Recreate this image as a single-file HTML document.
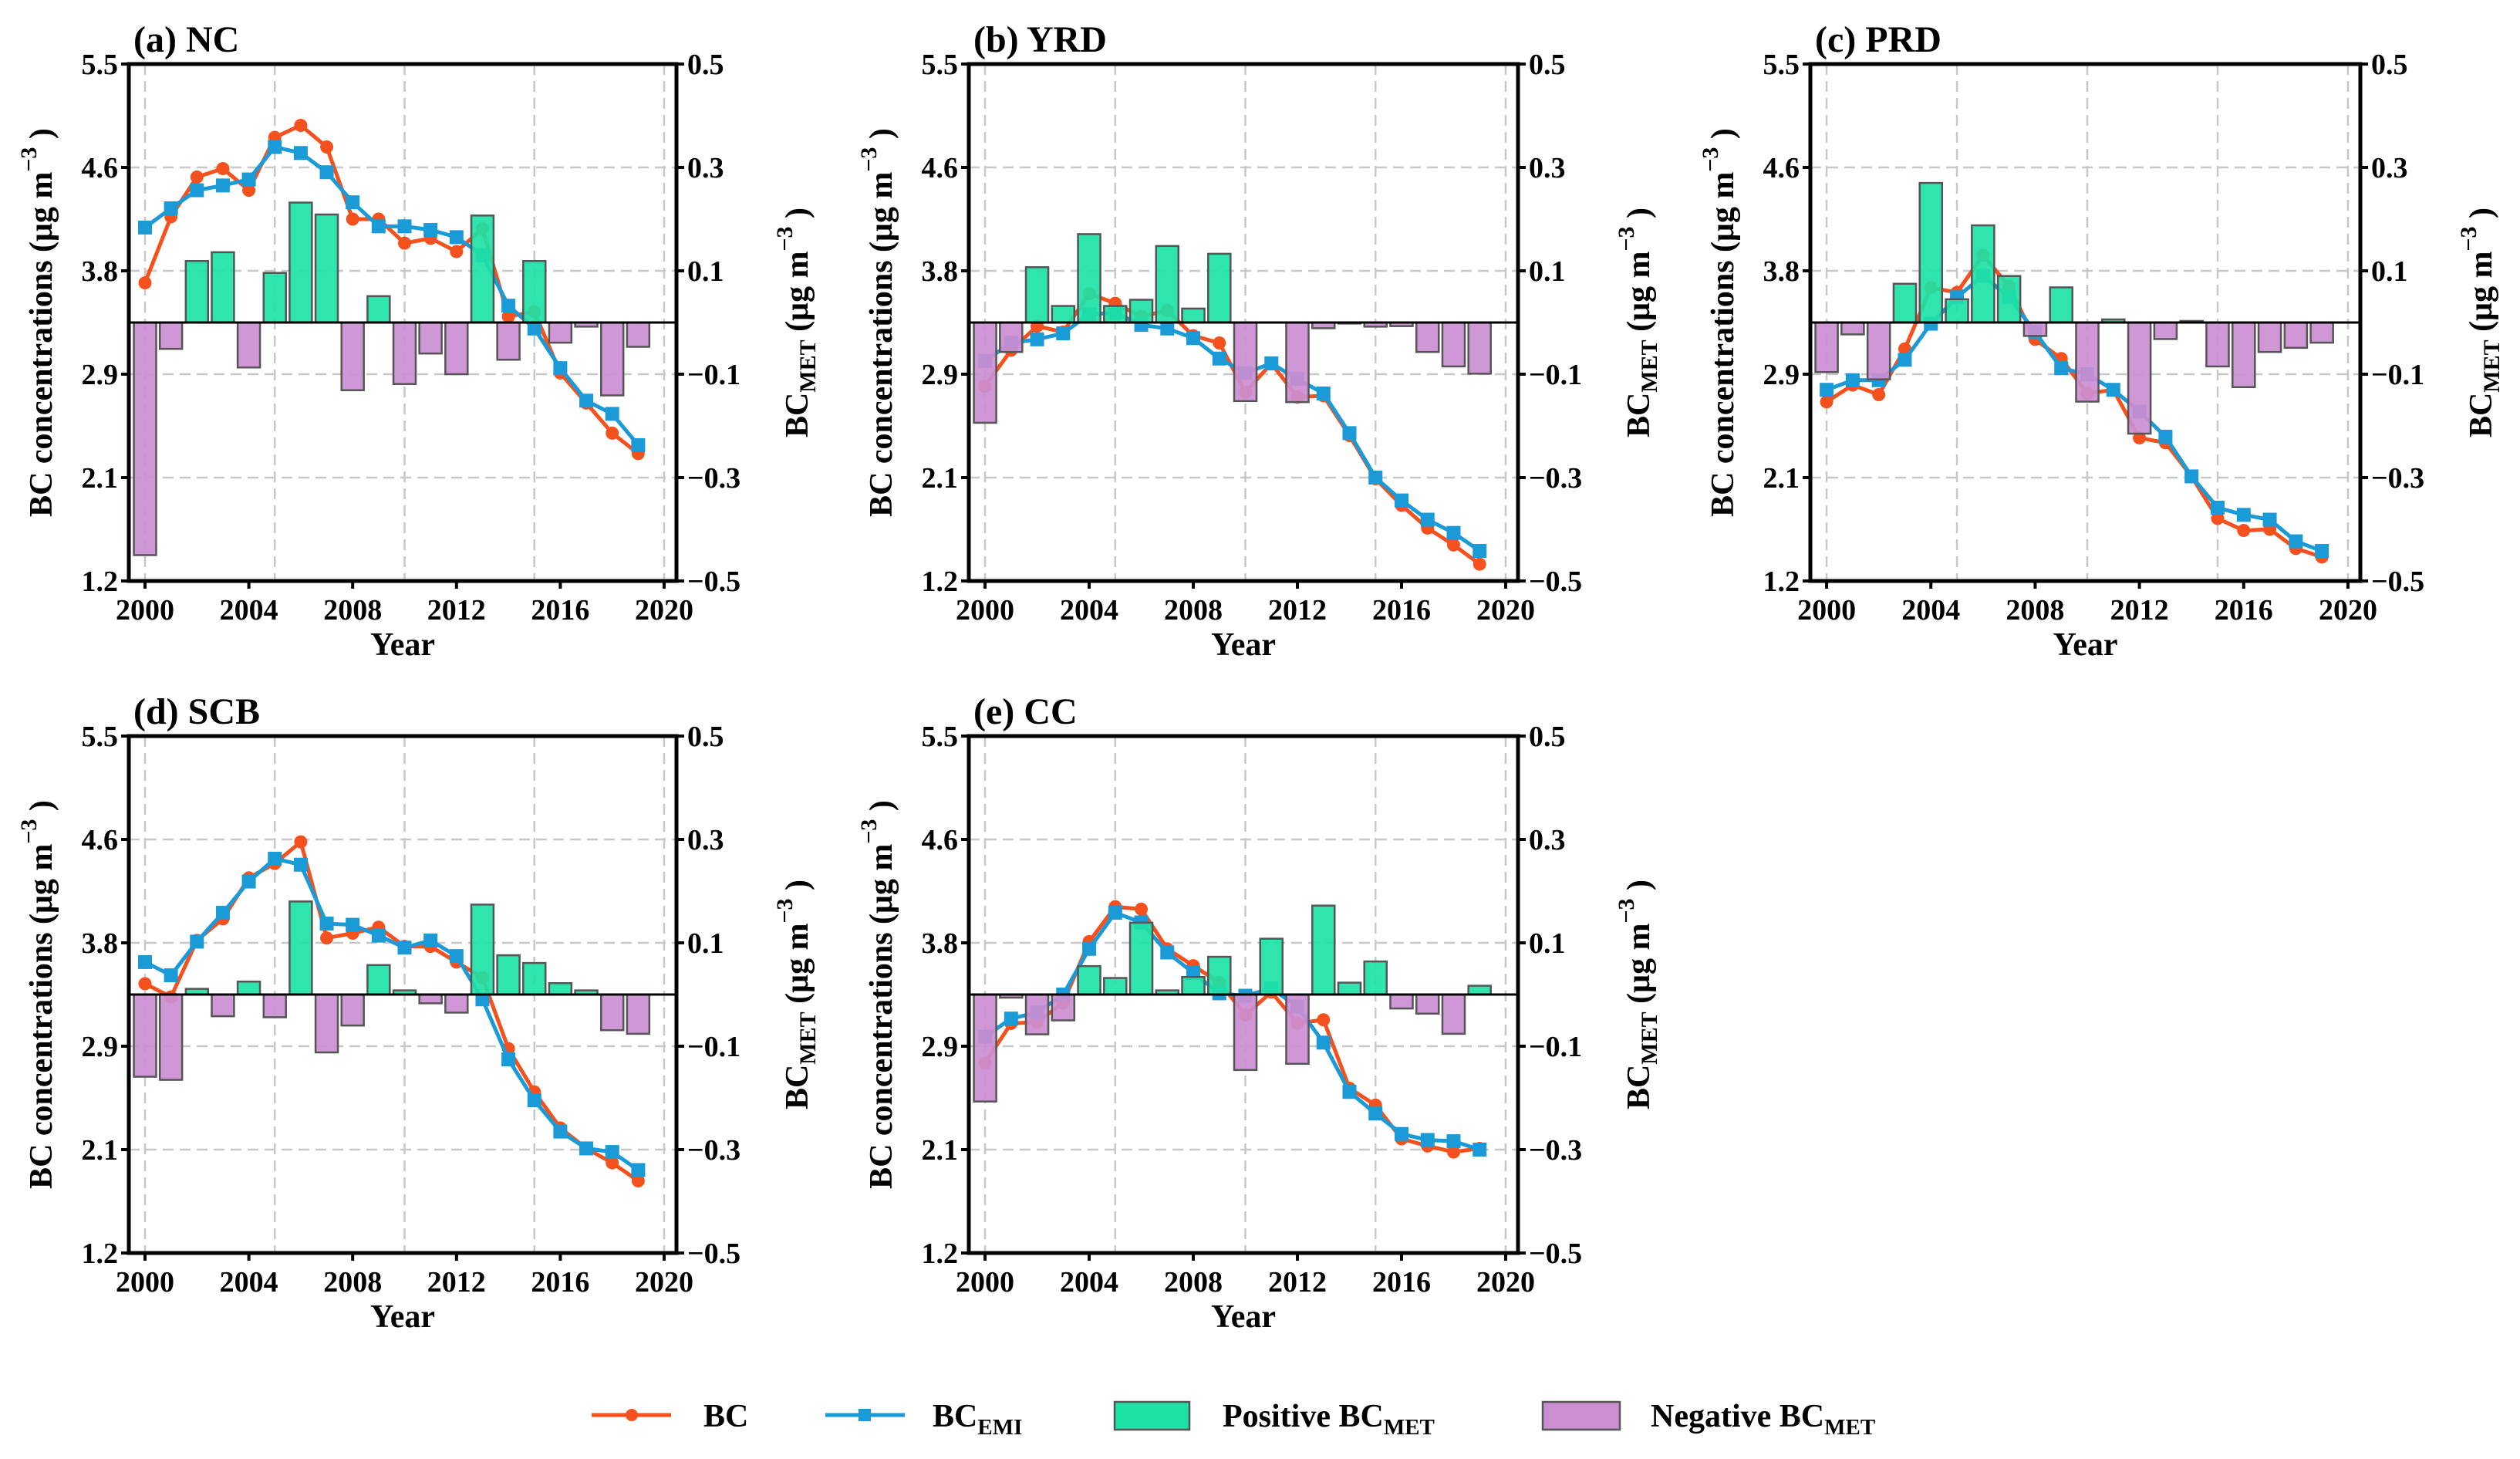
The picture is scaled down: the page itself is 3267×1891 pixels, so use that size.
<!DOCTYPE html>
<html><head><meta charset="utf-8">
<style>
html,body{margin:0;padding:0;background:#fff;}
svg{display:block;font-family:"Liberation Serif",serif;font-weight:bold;}
</style></head>
<body>
<svg id="fig" width="3267" height="1891" viewBox="0 0 3267 1891" xmlns="http://www.w3.org/2000/svg">
<g id="legend">
  <g>
    <line x1="767" y1="1834" x2="870" y2="1834" stroke="#f4511e" stroke-width="5"/>
    <circle cx="819" cy="1834" r="8" fill="#f4511e"/>
    <text x="912" y="1849" font-size="42">BC</text>
  </g>
  <g>
    <line x1="1070" y1="1834" x2="1173" y2="1834" stroke="#1a9ad6" stroke-width="5"/>
    <rect x="1113" y="1826" width="16" height="16" fill="#1a9ad6"/>
    <text x="1209" y="1849" font-size="42">BC<tspan font-size="29" dy="10">EMI</tspan></text>
  </g>
  <g>
    <rect x="1445" y="1817" width="97" height="36" fill="#1de2a6" stroke="#555" stroke-width="2.5"/>
    <text x="1585" y="1849" font-size="42">Positive BC<tspan font-size="29" dy="10">MET</tspan></text>
  </g>
  <g>
    <rect x="2000" y="1817" width="100" height="36" fill="#cb8ed1" stroke="#555" stroke-width="2.5"/>
    <text x="2140" y="1849" font-size="42">Negative BC<tspan font-size="29" dy="10">MET</tspan></text>
  </g>
</g>
</svg>
<script>
const years = [2000,2001,2002,2003,2004,2005,2006,2007,2008,2009,2010,2011,2012,2013,2014,2015,2016,2017,2018,2019];
const leftTicks = ["5.5","4.6","3.8","2.9","2.1","1.2"];
const rightTicks = ["0.5","0.3","0.1","\u22120.1","\u22120.3","\u22120.5"];
const xTicks = [2000,2004,2008,2012,2016,2020];
const gridYears = [2000,2005,2010,2015,2020];
const panelTitles = ["(a) NC","(b) YRD","(c) PRD","(d) SCB","(e) CC"];
const bcNC  = [3.68,4.23,4.56,4.63,4.45,4.89,4.99,4.81,4.21,4.21,4.01,4.05,3.94,4.13,3.40,3.44,2.93,2.68,2.43,2.26];
const emiNC = [4.14,4.30,4.45,4.49,4.54,4.81,4.76,4.60,4.35,4.15,4.15,4.12,4.06,3.91,3.49,3.30,2.97,2.70,2.59,2.33];
const metNC = [-0.45,-0.051,0.119,0.136,-0.087,0.096,0.232,0.209,-0.131,0.051,-0.119,-0.060,-0.10,0.207,-0.072,0.119,-0.039,-0.008,-0.141,-0.047];
const bcYRD  = [2.82,3.12,3.32,3.27,3.59,3.51,3.40,3.45,3.24,3.18,2.77,3.01,2.73,2.74,2.41,2.05,1.83,1.64,1.50,1.34];
const emiYRD = [3.03,3.18,3.21,3.26,3.42,3.43,3.33,3.30,3.22,3.05,2.93,3.01,2.88,2.76,2.43,2.06,1.87,1.71,1.60,1.45];
const metYRD = [-0.194,-0.057,0.107,0.032,0.171,0.032,0.044,0.148,0.027,0.133,-0.152,0,-0.154,-0.011,-0.002,-0.008,-0.007,-0.057,-0.085,-0.099];
const bcPRD  = [2.69,2.83,2.75,3.13,3.64,3.60,3.91,3.65,3.21,3.05,2.76,2.79,2.39,2.35,2.07,1.72,1.62,1.63,1.47,1.40];
const emiPRD = [2.79,2.87,2.87,3.04,3.34,3.56,3.74,3.56,3.27,2.97,2.92,2.79,2.61,2.40,2.07,1.81,1.75,1.71,1.53,1.45];
const metPRD = [-0.096,-0.023,-0.110,0.075,0.270,0.045,0.188,0.090,-0.026,0.068,-0.153,0.006,-0.215,-0.032,0.003,-0.085,-0.125,-0.057,-0.049,-0.039];
const bcSCB  = [3.44,3.33,3.80,3.98,4.32,4.44,4.62,3.82,3.86,3.91,3.75,3.75,3.62,3.49,2.90,2.54,2.24,2.07,1.95,1.80];
const emiSCB = [3.62,3.51,3.79,4.03,4.29,4.48,4.43,3.94,3.93,3.84,3.74,3.80,3.67,3.31,2.81,2.47,2.21,2.07,2.04,1.89];
const metSCB = [-0.159,-0.165,0.011,-0.042,0.025,-0.044,0.180,-0.112,-0.060,0.057,0.008,-0.017,-0.035,0.174,0.076,0.061,0.022,0.008,-0.069,-0.076];
const bcCC  = [2.78,3.11,3.12,3.28,3.79,4.08,4.06,3.73,3.59,3.45,3.18,3.37,3.11,3.14,2.57,2.43,2.15,2.09,2.04,2.07];
const emiCC = [3.00,3.15,3.20,3.35,3.73,4.03,3.95,3.70,3.53,3.36,3.34,3.40,3.25,2.95,2.54,2.36,2.19,2.14,2.13,2.06];
const metCC = [-0.207,-0.006,-0.077,-0.050,0.055,0.032,0.139,0.008,0.034,0.073,-0.146,0.108,-0.134,0.172,0.023,0.064,-0.027,-0.037,-0.076,0.017];

const NS = "http://www.w3.org/2000/svg";
const svg = document.getElementById("fig");
function mk(tag, attrs, parent){const e=document.createElementNS(NS,tag);for(const k in attrs)e.setAttribute(k,attrs[k]);(parent||svg).appendChild(e);return e;}

const panels = [
  {L:167,R:877,T:83,B:753,bc:bcNC,emi:emiNC,met:metNC,name:"nc"},
  {L:1256,R:1968,T:83,B:753,bc:bcYRD,emi:emiYRD,met:metYRD,name:"yrd"},
  {L:2347,R:3060,T:83,B:753,bc:bcPRD,emi:emiPRD,met:metPRD,name:"prd"},
  {L:167,R:877,T:954,B:1624,bc:bcSCB,emi:emiSCB,met:metSCB,name:"scb"},
  {L:1256,R:1968,T:954,B:1624,bc:bcCC,emi:emiCC,met:metCC,name:"cc"}
];

panels.forEach((p,pi)=>{
  const g = mk("g",{});
  
  
  const X0=1999.376, X1=2020.475;
  const x = v => p.L + (v-X0)/(X1-X0)*(p.R-p.L);
  const yL = v => p.T + (5.5-v)/4.3*(p.B-p.T);
  const yR = v => p.T + (0.5-v)/1.0*(p.B-p.T);
  gridYears.forEach(yr=>{
    const l=mk("line",{x1:x(yr),x2:x(yr),y1:p.T,y2:p.B,stroke:"#c8c8c8","stroke-width":2.5,"stroke-dasharray":"14 8"},g);
    
    
  });
  leftTicks.forEach((t,i)=>{
    const yy = p.T + i/5*(p.B-p.T);
    if(i>0 && i<5){
      const l=mk("line",{x1:p.L,x2:p.R,y1:yy,y2:yy,stroke:"#c8c8c8","stroke-width":2.5,"stroke-dasharray":"14 8"},g);
      
      
    }
    mk("line",{x1:p.L-10,x2:p.L,y1:yy,y2:yy,stroke:"#000","stroke-width":4},g);
    const tl=mk("text",{x:p.L-14,y:yy+13,"text-anchor":"end","font-size":38},g); tl.textContent=t;
    
    
    mk("line",{x1:p.R,x2:p.R+10,y1:yy,y2:yy,stroke:"#000","stroke-width":4},g);
    const tr=mk("text",{x:p.R+14,y:yy+13,"font-size":38},g); tr.textContent=rightTicks[i];
    
    
  });
  xTicks.forEach(yr=>{
    mk("line",{x1:x(yr),x2:x(yr),y1:p.B,y2:p.B+10,stroke:"#000","stroke-width":4},g);
    const t=mk("text",{x:x(yr),y:p.B+50,"text-anchor":"middle","font-size":38},g); t.textContent=yr;
    
    
  });
  const series=[[p.bc,"#f4511e","bc"],[p.emi,"#1a9ad6","emi"]];
  series.forEach(([arr,col,nm])=>{
    const pts=arr.map((v,i)=>x(years[i])+","+yL(v)).join(" ");
    const pl=mk("polyline",{points:pts,fill:"none",stroke:col,"stroke-width":5,"stroke-linejoin":"round"},g);
    
    
    arr.forEach((v,i)=>{
      let m;
      if(nm==="bc") m=mk("circle",{cx:x(years[i]),cy:yL(v),r:8.5,fill:col},g);
      else m=mk("rect",{x:x(years[i])-9,y:yL(v)-9,width:18,height:18,fill:col},g);
      
      
    });
  });
  const bw=0.86*(x(2001)-x(2000));
  p.met.forEach((v,i)=>{
    if(v===0) return;
    const y0=yR(0), y1=yR(v);
    const b=mk("rect",{x:x(years[i])-bw/2,y:Math.min(y0,y1),width:bw,height:Math.abs(y1-y0),fill:v>0?"#1de2a6":"#cb8ed1","fill-opacity":0.92,stroke:"#555","stroke-width":2.5},g);
    
    
  });
  const z=mk("line",{x1:p.L,x2:p.R,y1:yR(0),y2:yR(0),stroke:"#000","stroke-width":3},g);
  
  
  const fr=mk("rect",{x:p.L,y:p.T,width:p.R-p.L,height:p.B-p.T,fill:"none",stroke:"#000","stroke-width":5},g);
  
  
  const ti=mk("text",{x:p.L+6,y:p.T-16,"font-size":48},g); ti.textContent=panelTitles[pi];
  
  
  const xl=mk("text",{x:(p.L+p.R)/2,y:p.B+96,"text-anchor":"middle","font-size":42},g); xl.textContent="Year";
  
  
  const cy=(p.T+p.B)/2;
  const ly=mk("text",{x:0,y:0,"text-anchor":"middle","font-size":42,transform:`translate(${p.L-100},${cy}) rotate(-90)`},g);
  ly.innerHTML='BC concentrations (μg m<tspan font-size="30" dy="-20">−3</tspan><tspan dy="20"> )</tspan>';
  
  
  const ry=mk("text",{x:0,y:0,"text-anchor":"middle","font-size":42,transform:`translate(${p.R+170},${cy}) rotate(-90)`},g);
  ry.innerHTML='BC<tspan font-size="30" dy="10">MET</tspan><tspan dy="-10"> (μg m</tspan><tspan font-size="30" dy="-20">−3</tspan><tspan dy="20"> )</tspan>';
  
  
});
</script>
</body></html>
